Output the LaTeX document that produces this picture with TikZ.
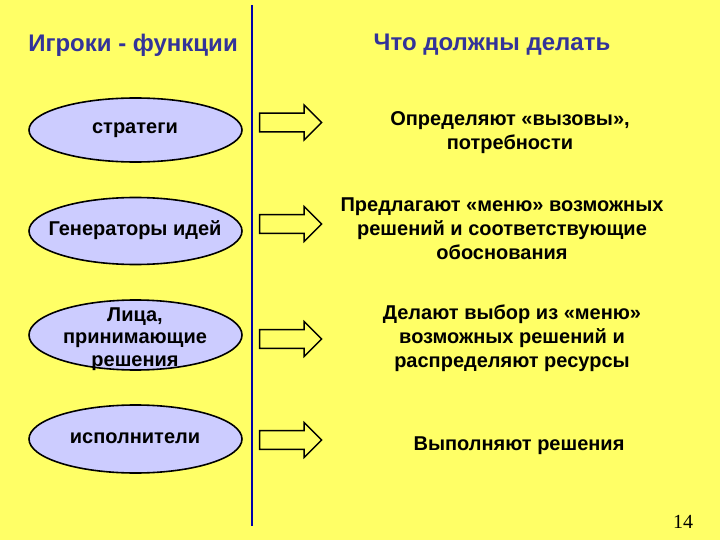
\documentclass[tikz,border=0pt]{standalone}
\usepackage{fontspec}
\setmainfont{Liberation Sans}
\newfontfamily\numfont{Liberation Serif}
\usetikzlibrary{shapes.geometric,shapes.arrows}
\definecolor{bg}{HTML}{FFFF66}
\definecolor{ellfill}{HTML}{CCCCFF}
\definecolor{headblue}{HTML}{333399}
\definecolor{lineblue}{HTML}{0000AA}
\tikzset{
  player/.style={ellipse, draw=black, line width=1.6pt, fill=ellfill, minimum width=213pt, minimum height=66pt, inner sep=0pt},
  playertext/.style={align=center, font=\fontsize{20}{22.5}\selectfont\bfseries},
  header/.style={text=headblue, font=\fontsize{24}{28}\selectfont\bfseries},
  task/.style={align=center, font=\fontsize{20}{24}\selectfont\bfseries},
  blockarrow/.style={single arrow, draw=black, line width=1.4pt, fill=bg, text height=7.5pt, text depth=7.5pt, text width=0pt, inner sep=0pt, minimum width=35pt, minimum height=62pt, single arrow tip angle=90, shape border uses incircle=false},
}
\begin{document}
\begin{tikzpicture}[x=1pt,y=-1pt]
\fill[bg] (0,0) rectangle (720,540);
\useasboundingbox (0,0) rectangle (720,540);
\coordinate (ltop) at (252,5);
\coordinate (lbot) at (252,526);
\draw[lineblue, line width=2.6pt] (ltop) -- (lbot);
\node[header] (h1) at (133,45) {Игроки - функции};
\node[header] (h2) at (492,45) {Что должны делать};
\node[player, minimum height=64pt] (p1) at (135.5,130) {};
\node[player, minimum height=67pt] (p2) at (135.5,231) {};
\node[player, minimum height=70pt] (p3) at (135.5,335) {};
\node[player, minimum height=68pt] (p4) at (135.5,439) {};
\node[playertext] (p1t) at (135,130) {стратеги};
\node[playertext] (p2t) at (135,230) {Генераторы идей};
\node[playertext] (p3t) at (135,339) {Лица,\\принимающие\\решения};
\node[playertext] (p4t) at (135,438) {исполнители};
\node[blockarrow] (a1) at (286,122.5) {};
\node[blockarrow] (a2) at (286,224) {};
\node[blockarrow] (a3) at (286,339) {};
\node[blockarrow] (a4) at (286,440) {};
\node[task] (t1) at (510,133) {Определяют «вызовы»,\\потребности};
\node[task] (t2) at (502,229) {Предлагают «меню» возможных\\решений и соответствующие\\обоснования};
\node[task] (t3) at (512,338) {Делают выбор из «меню»\\возможных решений и\\распределяют ресурсы};
\node[task] (t4) at (519,446) {Выполняют решения};
\node[font=\numfont\fontsize{20}{22}\selectfont] (n) at (683,522) {14};
\end{tikzpicture}
\end{document}
